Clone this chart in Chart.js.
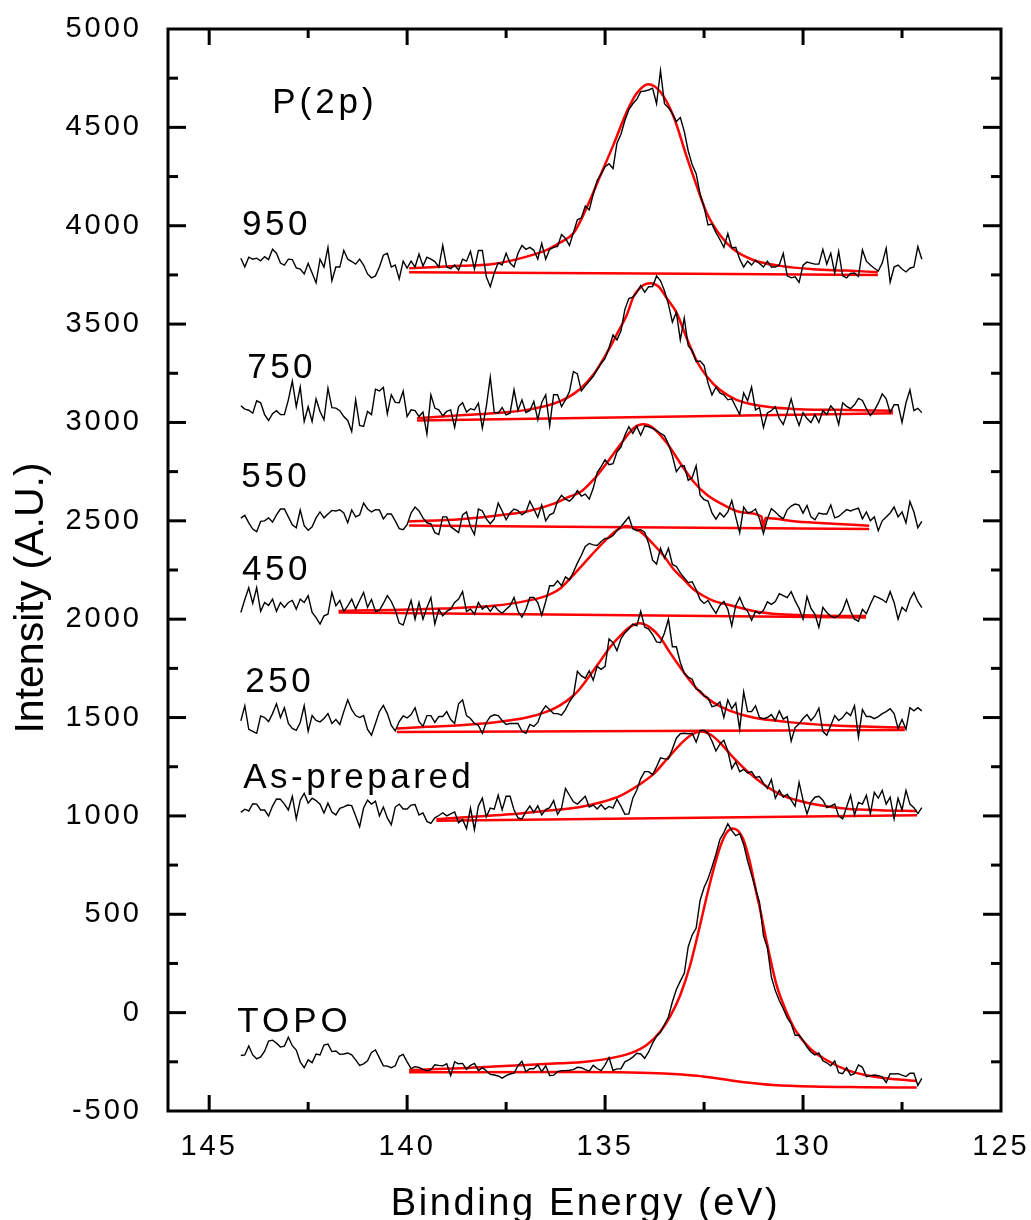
<!DOCTYPE html>
<html>
<head>
<meta charset="utf-8">
<script src="https://cdn.jsdelivr.net/npm/chart.js@4.4.1/dist/chart.umd.min.js"></script>
<style>
  html, body { margin: 0; padding: 0; background: #fff; overflow: hidden; }
  #wrap { width: 1031px; height: 1220px; }
  canvas { display: block; }
</style>
</head>
<body>
<div id="wrap"><canvas id="xps"></canvas></div>
<script>
// ---- binding energy grid of the raw spectra (eV, 0.1 eV steps) ----
const energy = Array.from({ length: 173 }, (_, i) => Math.round((144.2 - i * 0.1) * 10) / 10);

// ---- raw counts, one array per sample (offset stacked) ----
const spec950 = [
  3835, 3790, 3840, 3830, 3835, 3822, 3843, 3828, 3880, 3860,
  3810, 3800, 3830, 3828, 3786, 3780, 3755, 3808, 3760, 3710,
  3830, 3790, 3890, 3720, 3790, 3790, 3875, 3830, 3818, 3805,
  3830, 3800, 3755, 3735, 3745, 3790, 3850, 3860, 3790, 3800,
  3730, 3820, 3785, 3820, 3790, 3856, 3795, 3840, 3830, 3818,
  3790, 3900, 3790, 3782, 3800, 3775, 3830, 3820, 3870, 3780,
  3874, 3874, 3740, 3690, 3760, 3812, 3800, 3860, 3810, 3790,
  3860, 3900, 3880, 3890, 3875, 3830, 3910, 3830, 3880, 3890,
  3895, 3955, 3935, 3900, 3965, 4030,
  4040, 4100, 4080, 4160, 4230, 4262, 4300, 4315, 4290, 4420,
  4465, 4535, 4590, 4620, 4643, 4682, 4685, 4690, 4699, 4620,
  4788, 4620, 4600, 4570, 4530, 4550, 4480, 4380, 4310, 4265,
  4160, 4095, 4004, 4008, 3965, 3930, 3890, 3960, 3887, 3890,
  3830, 3790, 3820, 3800, 3825, 3808, 3790, 3820, 3790, 3790,
  3800, 3860, 3745, 3735, 3740, 3712, 3800, 3815, 3810, 3805,
  3805, 3880, 3805, 3860, 3760, 3870, 3745, 3735, 3758, 3760,
  3742, 3877, 3820, 3800, 3784, 3770, 3810, 3886, 3713, 3790,
  3800, 3780, 3765, 3784, 3790, 3894, 3830
];
const spec750 = [
  3085, 3068, 3062, 3047, 3110, 3100, 3040, 3010, 3045, 3060,
  3040, 3040, 3115, 3210, 3080, 3180, 3005, 3080, 3005, 3120,
  3056, 3014, 3174, 3075, 3073, 3060, 3030, 3010, 2954, 3115,
  2985, 2980, 3056, 3040, 3169, 3160, 3178, 3044, 3141, 3102,
  3100, 3159, 3030, 3064, 3060, 3030, 3053, 2941, 3140, 3073,
  3064, 3034, 3056, 3064, 2975, 3081, 3100, 3053, 3070, 3064,
  3098, 2971, 3081, 3230, 3051, 3047, 3076, 3039, 3047, 3166,
  3061, 3115, 3051, 3061, 3107, 3014, 3102, 3141, 2983, 3141,
  3141, 3081, 3115, 3157, 3259, 3247,
  3160, 3186, 3210, 3235, 3268, 3300, 3325, 3380, 3445, 3420,
  3465, 3575, 3630, 3637, 3660, 3695, 3662, 3690, 3691, 3745,
  3720, 3670, 3600, 3510, 3560, 3420, 3530, 3390, 3365, 3310,
  3312, 3290, 3200, 3140, 3180, 3150, 3140, 3115, 3120, 3080,
  3040, 3150, 3110, 3180, 3064, 3075, 2975, 3048, 3060, 3080,
  3020, 2990, 3050, 3120, 3040, 2985, 3050, 3020, 3000, 3040,
  3000, 3060, 3040, 3085, 3060, 2990, 3100, 3082, 3070, 3090,
  3122, 3112, 3070, 3035, 3060, 3098, 3145, 3120, 3050, 3090,
  3090, 3000, 3100, 3165, 3060, 3072, 3050
];
const spec550 = [
  2514, 2528, 2490, 2458, 2445, 2497, 2500, 2515, 2494, 2530,
  2560, 2560, 2520, 2480, 2465, 2555, 2475, 2452, 2470, 2515,
  2545, 2515, 2535, 2553, 2550, 2556, 2540, 2490, 2555, 2520,
  2530, 2590, 2560, 2545, 2557, 2555, 2510, 2535, 2535, 2500,
  2460, 2455, 2480, 2540, 2570, 2550, 2515, 2490, 2485, 2440,
  2430, 2520, 2520, 2470, 2455, 2440, 2530, 2545, 2470, 2430,
  2560, 2550, 2510, 2485, 2510, 2590, 2550, 2505, 2540, 2560,
  2552, 2530, 2545, 2600, 2560, 2518, 2580, 2500, 2530, 2540,
  2600, 2630, 2610, 2600, 2620, 2654,
  2626, 2636, 2610, 2665, 2745, 2775, 2810, 2785, 2790, 2850,
  2875, 2935, 2978, 2945, 2980, 2935, 2982, 2978, 2970, 2958,
  2945, 2932, 2890, 2830, 2750, 2777, 2780, 2706, 2720, 2780,
  2630, 2608, 2600, 2540, 2508, 2540, 2520, 2545, 2603, 2520,
  2440, 2570, 2540, 2545, 2560, 2510, 2435, 2510, 2562, 2545,
  2525, 2510, 2556, 2575, 2585, 2580, 2539, 2578, 2520, 2505,
  2540, 2535, 2535, 2580, 2515, 2522, 2540, 2557, 2550, 2558,
  2564, 2510, 2545, 2500, 2520, 2450, 2500, 2520, 2540, 2570,
  2520, 2545, 2490, 2598, 2545, 2465, 2497
];
const spec450 = [
  2034, 2100, 2160, 2080, 2160, 2040, 2085, 2070, 2102, 2040,
  2085, 2060, 2085, 2095, 2051, 2102, 2085, 2120, 2034, 2008,
  1975, 2017, 2025, 2136, 2068, 2095, 2040, 2068, 2102, 2051,
  2095, 2136, 2060, 2100, 2040, 2045, 2080, 2120, 2090, 2045,
  1980, 1970, 2035, 2095, 2000, 2085, 2000, 2060, 2110, 1975,
  2050, 2017, 2040, 2051, 2085, 2102, 2140, 2040, 2051, 2025,
  2085, 2051, 2068, 2040, 2068, 2045, 2030, 2050, 2068, 2110,
  2040, 2010, 2050, 2110, 2110, 2085, 2020, 2090, 2170, 2170,
  2195, 2170, 2215, 2200, 2240, 2285,
  2325, 2370, 2385, 2378, 2375, 2395, 2410, 2412, 2425, 2450,
  2470, 2495, 2520, 2460, 2450, 2455, 2442, 2385, 2300, 2280,
  2360, 2310, 2360, 2278, 2268, 2235, 2210, 2186, 2190, 2150,
  2100, 2080, 2095, 2060, 2030, 2070, 2090, 2050, 1966, 2070,
  2110, 2062, 2040, 1995, 2040, 2028, 2045, 2088, 2075, 2090,
  2130, 2120, 2110, 2140, 2093, 2055, 2000, 2115, 2055, 2025,
  1958, 2060, 2034, 2016, 2008, 2017, 2045, 2100, 2040, 2000,
  1990, 2050, 2028, 2076, 2118, 2110, 2100, 2085, 2140, 2085,
  2000, 2060, 2040, 2100, 2136, 2090, 2059
];
const spec250 = [
  1483, 1560, 1440, 1430, 1420, 1508, 1500, 1480, 1520, 1570,
  1500, 1550, 1470, 1445, 1435, 1475, 1560, 1430, 1510, 1485,
  1478, 1495, 1520, 1470, 1490, 1465, 1530, 1590, 1540, 1510,
  1500, 1510, 1440, 1410, 1470, 1530, 1562, 1520, 1460, 1432,
  1480, 1508, 1498, 1515, 1550, 1480, 1455, 1510, 1510, 1475,
  1505, 1505, 1530, 1490, 1470, 1570, 1590, 1510, 1495, 1470,
  1460, 1420, 1475, 1505, 1514, 1510, 1485, 1465, 1470, 1470,
  1470, 1430, 1420, 1465, 1455, 1475, 1530, 1560, 1540, 1520,
  1520, 1512, 1540, 1580, 1610, 1735,
  1712, 1700, 1737, 1690, 1760, 1745, 1760, 1900, 1880, 1840,
  1900, 1930, 1950, 1975, 1966, 2040, 1960, 1950, 1922, 1885,
  1880, 1930, 2000, 1860, 1860, 1780, 1725, 1705, 1695, 1645,
  1636, 1610, 1600, 1555, 1560, 1580, 1500, 1590, 1545, 1575,
  1440, 1630, 1530, 1530, 1560, 1500, 1494, 1500, 1515, 1485,
  1534, 1492, 1505, 1380, 1449, 1468, 1495, 1515, 1485, 1508,
  1548, 1430, 1410, 1460, 1510, 1485, 1500, 1527, 1510, 1560,
  1400, 1540, 1505, 1505, 1494, 1505, 1520, 1530, 1545, 1520,
  1445, 1490, 1440, 1550, 1534, 1550, 1534
];
const specAsPrepared = [
  1018, 1034, 1025, 1062, 1060, 1030, 1030, 1000, 1050, 1086,
  1085, 1060, 1030, 1100, 985, 1080, 1115, 1065, 1090, 1078,
  1060, 1015, 1065, 1020, 1005, 1038, 1046, 1055, 1052, 1000,
  945, 1040, 1080, 1060, 1075, 1000, 1045, 990, 955, 1045,
  1060, 1035, 1035, 1055, 1058, 1005, 1015, 972, 962, 990,
  1002, 1016, 1000, 1010, 1020, 965, 982, 935, 1040, 930,
  1050, 1090, 995, 1040, 1034, 1105, 1030, 1100, 1100, 1030,
  990, 985, 1022, 1050, 1018, 1051, 1005, 1032, 1042, 1078,
  1008, 1040, 1140, 1105, 1072, 1060,
  1080, 1100, 1045, 1055, 1035, 1058, 1034, 1048, 1040, 1085,
  1050, 1008, 1010, 1090, 1130, 1190, 1225, 1225, 1210, 1250,
  1295, 1290, 1290, 1340, 1395, 1418, 1420, 1418, 1420, 1375,
  1434, 1435, 1420, 1380, 1330, 1365, 1385, 1330, 1240, 1275,
  1225, 1237, 1218, 1225, 1195, 1200, 1165, 1140, 1185, 1090,
  1130, 1095, 1110, 1080, 1050, 1170, 1080, 1010, 1070, 1095,
  1100, 1080, 1042, 1050, 1060, 1000, 985, 1045, 1105, 1005,
  1068, 1060, 1105, 1010, 1120, 1090, 1130, 1060, 1095, 985,
  1090, 1030, 1130, 1060, 1042, 1012, 1042
];
const specTopo = [
  -218, -215, -170, -215, -235, -225, -196, -145, -140, -155,
  -175, -170, -125, -168, -190, -250, -280, -240, -254, -210,
  -215, -165, -160, -198, -195, -212, -210, -205, -215, -240,
  -268, -260, -245, -202, -190, -230, -270, -272, -280, -270,
  -222, -212, -250, -285, -275, -278, -288, -296, -290, -265,
  -268, -270, -260, -320, -250, -260, -258, -288, -268, -258,
  -295, -280, -295, -314, -317, -322, -333, -320, -312, -308,
  -270, -247, -300, -285, -285, -266, -300, -270, -320, -318,
  -300, -295, -295, -293, -290, -278,
  -280, -290, -298, -268, -284, -295, -265, -228, -294, -286,
  -285, -250, -240, -226, -207, -210, -232, -200, -155, -120,
  -100, -60, -22, 55, 118, 160, 200, 335, 395, 430,
  570, 636, 680, 740, 805, 880, 915, 960, 925, 900,
  910, 855, 770, 700, 630, 560, 390, 330, 180, 112,
  62, 20, -25, -57, -115, -115, -140, -175, -200, -215,
  -205, -245, -255, -270, -245, -305, -310, -280, -318, -310,
  -266, -278, -325, -320, -317, -320, -326, -355, -310, -312,
  -310, -318, -325, -308, -308, -370, -334
];

// ---- peak fits (energy, intensity) ----
const fit950X = [139.95, 138.66, 137.82, 136.98, 136.47, 136.14, 135.8, 135.63, 135.38, 135.13, 134.79, 134.45, 134.2, 133.91, 133.61, 133.27, 132.94, 132.68, 132.43, 132.1, 131.76, 131.26, 130.58, 129.74, 128.9, 128.11];
const fit950Y = [3784, 3796, 3805, 3843, 3877, 3914, 3962, 4021, 4131, 4250, 4411, 4580, 4673, 4719, 4682, 4555, 4351, 4199, 4063, 3953, 3880, 3826, 3796, 3779, 3772, 3764];
const fit750X = [139.75, 138.66, 137.82, 136.98, 136.31, 135.97, 135.63, 135.3, 134.96, 134.71, 134.45, 134.28, 134.03, 133.86, 133.65, 133.44, 133.19, 132.94, 132.68, 132.43, 132.1, 131.68, 131.09, 130.25, 129.24, 127.73];
const fit750Y = [3022, 3036, 3047, 3064, 3095, 3124, 3170, 3242, 3352, 3446, 3547, 3640, 3699, 3708, 3691, 3631, 3556, 3429, 3310, 3234, 3166, 3115, 3085, 3069, 3064, 3059];
const fit550X = [139.95, 138.66, 137.82, 136.98, 136.31, 135.89, 135.63, 135.3, 134.96, 134.62, 134.28, 134.03, 133.78, 133.44, 133.1, 132.77, 132.43, 132.01, 131.51, 131.05, 131.0, 130.95, 130.17, 129.24, 128.33];
const fit550Y = [2497, 2508, 2525, 2547, 2586, 2624, 2645, 2708, 2793, 2886, 2971, 2991, 2971, 2895, 2793, 2700, 2632, 2581, 2542, 2522, 2462, 2514, 2497, 2485, 2475];
const fit450X = [141.73, 140.35, 139.09, 137.82, 136.98, 136.47, 136.14, 135.89, 135.63, 135.38, 135.13, 134.88, 134.67, 134.45, 134.24, 134.03, 133.78, 133.52, 133.27, 133.02, 132.77, 132.52, 132.26, 131.84, 131.26, 130.58, 129.74, 128.41];
const fit450Y = [2042, 2047, 2054, 2068, 2093, 2120, 2155, 2205, 2262, 2318, 2372, 2422, 2457, 2474, 2461, 2432, 2381, 2322, 2254, 2203, 2152, 2119, 2093, 2071, 2042, 2025, 2019, 2016];
const fit250X = [140.26, 139.5, 138.66, 137.82, 136.98, 136.47, 136.14, 135.8, 135.63, 135.38, 135.13, 134.88, 134.62, 134.37, 134.13, 133.86, 133.61, 133.36, 133.1, 132.85, 132.6, 132.26, 131.84, 131.26, 130.42, 129.32, 127.43];
const fit250Y = [1444, 1453, 1461, 1475, 1500, 1530, 1562, 1612, 1648, 1715, 1785, 1856, 1915, 1961, 1979, 1957, 1907, 1830, 1754, 1686, 1630, 1576, 1534, 1500, 1478, 1461, 1449];
const fitAsX = [139.26, 138.24, 137.4, 136.56, 135.63, 135.13, 134.62, 134.12, 133.78, 133.44, 133.1, 132.8, 132.57, 132.35, 132.1, 131.76, 131.42, 131.0, 130.58, 130.08, 129.57, 128.9, 128.06, 127.12];
const fitAsY = [983, 997, 1008, 1025, 1045, 1068, 1102, 1161, 1212, 1288, 1364, 1415, 1429, 1415, 1373, 1296, 1229, 1161, 1110, 1076, 1054, 1037, 1029, 1025];
const fitTopoX = [139.95, 138.66, 137.82, 136.98, 136.14, 135.63, 134.96, 134.37, 133.95, 133.61, 133.36, 133.1, 132.85, 132.6, 132.45, 132.26, 132.1, 131.93, 131.78, 131.64, 131.51, 131.34, 131.18, 131.09, 130.92, 130.67, 130.42, 130.17, 129.83, 129.41, 128.9, 128.23, 127.64, 127.13];
const fitTopoY = [-291, -283, -274, -266, -257, -252, -235, -207, -164, -97, -20, 90, 242, 446, 576, 729, 839, 915, 936, 924, 881, 763, 610, 530, 361, 141, 5, -97, -181, -241, -291, -325, -339, -347];

// ---- fit backgrounds ----
const base950X = [139.95, 128.11], base950Y = [3764, 3750];
const base750X = [139.75, 127.73], base750Y = [3010, 3047];
const base550X = [139.95, 128.33], base550Y = [2476, 2458];
const base450X = [141.73, 128.41], base450Y = [2034, 2008];
const base250X = [140.26, 127.43], base250Y = [1427, 1437];
const baseAsX = [139.26, 127.12], baseAsY = [975, 1003];
const baseTopoX = [139.95, 135.63, 134.37, 133.52, 132.68, 132.01, 131.42, 130.75, 129.74, 128.48, 127.13];
const baseTopoY = [-303, -302, -304, -309, -321, -339, -355, -368, -376, -379, -381];

// ---- labels written inside the plot (energy, intensity of text baseline) ----
const sampleLabels = [
  { text: 'P(2p)', e: 143.41, v: 4573, size: 35, gap: 4 },
  { text: '950', e: 144.17, v: 3953, size: 35, gap: 3.5 },
  { text: '750', e: 144.04, v: 3226, size: 35, gap: 3.5 },
  { text: '550', e: 144.19, v: 2672, size: 35, gap: 3.5 },
  { text: '450', e: 144.17, v: 2199, size: 35, gap: 3.5 },
  { text: '250', e: 144.09, v: 1630, size: 35, gap: 3.5 },
  { text: 'As-prepared', e: 144.14, v: 1142, size: 35, gap: 3.5 },
  { text: 'TOPO', e: 144.29, v: -98, size: 35, gap: 4 }
];

const FONT = '"Liberation Sans", Arial, Helvetica, sans-serif';

function pairs(xs, ys) {
  return xs.map((x, i) => ({ x: x, y: ys[i] }));
}
function rawSet(values) {
  return { data: pairs(energy, values), borderColor: '#000', borderWidth: 1.4, tension: 0 };
}
function fitSet(xs, ys) {
  return { data: pairs(xs, ys), borderColor: '#ff0000', borderWidth: 2.5, cubicInterpolationMode: 'monotone' };
}

const datasets = [
  rawSet(spec950), rawSet(spec750), rawSet(spec550), rawSet(spec450),
  rawSet(spec250), rawSet(specAsPrepared), rawSet(specTopo),
  fitSet(base950X, base950Y), fitSet(fit950X, fit950Y),
  fitSet(base750X, base750Y), fitSet(fit750X, fit750Y),
  fitSet(base550X, base550Y), fitSet(fit550X, fit550Y),
  fitSet(base450X, base450Y), fitSet(fit450X, fit450Y),
  fitSet(base250X, base250Y), fitSet(fit250X, fit250Y),
  fitSet(baseAsX, baseAsY), fitSet(fitAsX, fitAsY),
  fitSet(baseTopoX, baseTopoY), fitSet(fitTopoX, fitTopoY)
];

// tick labels in the original are letter-spaced
const spacing = {
  id: 'spacing',
  beforeDraw(chart) { chart.ctx.letterSpacing = '3px'; },
  afterDraw(chart) { chart.ctx.letterSpacing = '0px'; }
};

// frame, inward ticks on all four sides, titles and sample labels
const decor = {
  id: 'decor',
  afterDraw(chart) {
    const { ctx, chartArea: a, scales: { x, y } } = chart;
    ctx.save();
    ctx.strokeStyle = '#000';
    ctx.lineWidth = 3;
    ctx.strokeRect(a.left, a.top, a.right - a.left, a.bottom - a.top);

    const seg = (x1, y1, x2, y2) => { ctx.beginPath(); ctx.moveTo(x1, y1); ctx.lineTo(x2, y2); ctx.stroke(); };
    for (let v = 127.5; v < 146; v += 2.5) {
      const px = x.getPixelForValue(v);
      const len = v % 5 === 0 ? 16 : 9;
      seg(px, a.bottom, px, a.bottom - len);
      seg(px, a.top, px, a.top + len);
    }
    for (let v = -250; v < 5000; v += 250) {
      const py = y.getPixelForValue(v);
      const len = v % 500 === 0 ? 18 : 10;
      seg(a.left, py, a.left + len, py);
      seg(a.right, py, a.right - len, py);
    }

    ctx.fillStyle = '#000';
    ctx.textBaseline = 'alphabetic';
    ctx.textAlign = 'left';
    sampleLabels.forEach(l => {
      ctx.font = l.size + 'px ' + FONT;
      ctx.letterSpacing = l.gap + 'px';
      ctx.fillText(l.text, x.getPixelForValue(l.e), y.getPixelForValue(l.v));
    });

    // x title
    ctx.font = '38px ' + FONT;
    ctx.letterSpacing = '2.6px';
    ctx.textAlign = 'center';
    ctx.fillText('Binding Energy (eV)', (a.left + a.right) / 2 + 1, 1215);

    // y title
    ctx.letterSpacing = '0px';
    ctx.font = '41px ' + FONT;
    ctx.translate(43, 598);
    ctx.rotate(-Math.PI / 2);
    ctx.fillText('Intensity (A.U.)', 0, 0);
    ctx.restore();
  }
};

// keep the plot box fixed: no extra room reserved for overhanging tick labels
function fixBox(size) {
  return s => {
    if (s.isHorizontal()) s.height = size; else s.width = size;
    s.paddingLeft = 0; s.paddingRight = 0; s.paddingTop = 0; s.paddingBottom = 0;
  };
}

new Chart(document.getElementById('xps'), {
  type: 'line',
  data: { datasets: datasets },
  options: {
    responsive: true,
    maintainAspectRatio: false,
    animation: false,
    normalized: true,
    layout: { padding: { top: 29, right: 30, left: 0, bottom: 0 } },
    elements: { point: { radius: 0 } },
    plugins: { legend: { display: false }, tooltip: { enabled: false } },
    scales: {
      x: {
        type: 'linear',
        reverse: true,
        min: 125,
        max: 146.04,
        border: { display: false },
        grid: { display: false },
        ticks: {
          stepSize: 5,
          includeBounds: false,
          autoSkip: false,
          maxRotation: 0,
          color: '#000',
          padding: 11,
          font: { family: FONT, size: 29 },
          callback: v => String(v)
        },
        afterFit: fixBox(109)
      },
      y: {
        min: -500,
        max: 5000,
        border: { display: false },
        grid: { display: false },
        ticks: {
          stepSize: 500,
          color: '#000',
          padding: 18,
          font: { family: FONT, size: 29 },
          callback: v => String(v)
        },
        afterFit: fixBox(168)
      }
    }
  },
  plugins: [spacing, decor]
});
</script>
</body>
</html>
